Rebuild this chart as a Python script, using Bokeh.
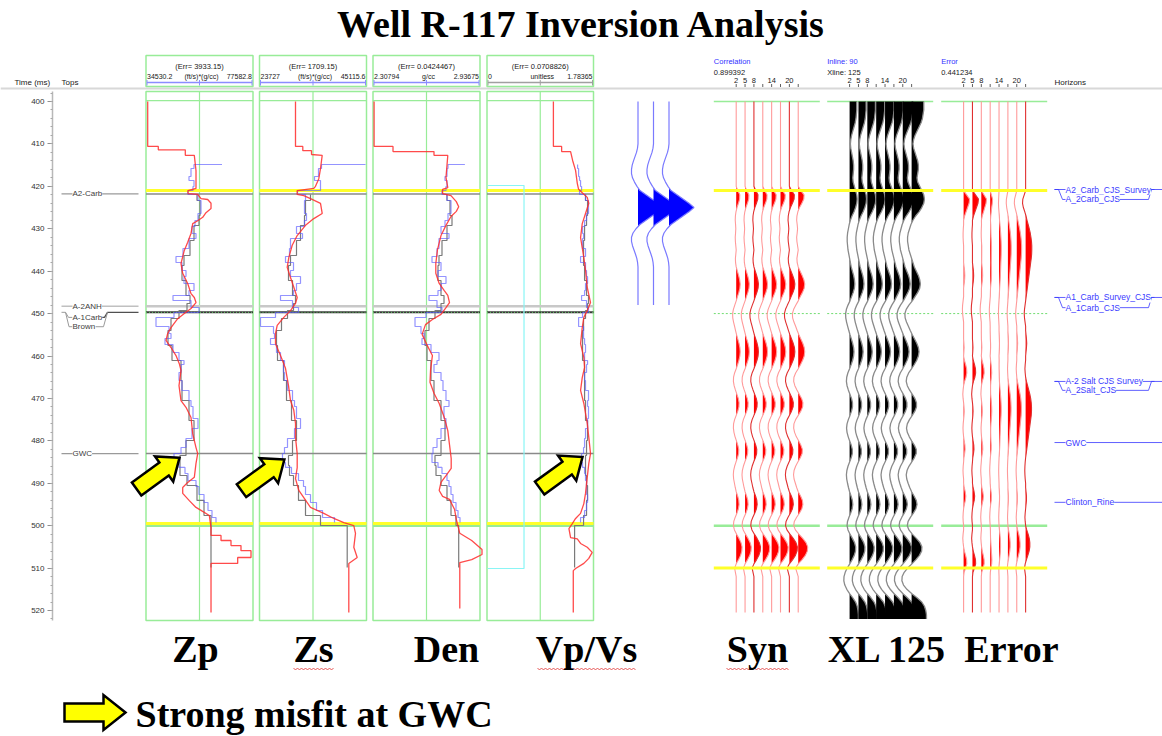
import numpy as np
from bokeh.plotting import figure
from bokeh.models import Range1d, Label, SingleIntervalTicker, LinearAxis
from bokeh.embed import file_html
from bokeh.resources import INLINE

# ======================= DATA =======================
title_text = "Well R-117 Inversion Analysis"
legend_text = "Strong misfit at GWC"

track_names = ["Zp", "Zs", "Den", "Vp/Vs"]
track_err = ["(Err= 3933.15)", "(Err= 1709.15)", "(Err= 0.0424467)", "(Err= 0.0708826)"]
track_units = ["(ft/s)*(g/cc)", "(ft/s)*(g/cc)", "g/cc", "unitless"]
track_min = [34530.2, 23727.0, 2.30794, 0.0]
track_max = [77582.8, 45115.6, 2.93675, 1.78365]
track_min_lbl = ["34530.2", "23727", "2.30794", "0"]
track_max_lbl = ["77582.8", "45115.6", "2.93675", "1.78365"]

# inverted result (red)
zp_inv_t = [400.0, 410.6, 410.6, 411.4, 411.4, 412.7, 412.7, 416.3, 420.5, 421.0, 421.7, 421.9, 422.9, 423.1, 424.0,
            425.2, 426.2, 427.3, 428.1, 428.8, 431.1, 433.2, 435.1, 438.2, 440.5, 442.9, 445.3, 446.2, 447.4, 448.8,
            450.0, 451.2, 453.3, 454.7, 456.3, 458.0, 459.9, 461.8, 463.4, 467.0, 470.5, 472.1, 474.5, 478.3, 481.6,
            483.0, 485.3, 488.6, 489.8, 491.0, 492.4, 494.1, 495.7, 496.4, 497.6, 500.4, 502.3, 502.3, 503.5, 503.5,
            504.7, 504.7, 505.9, 505.9, 507.5, 507.5, 508.9, 508.9, 520.5]
zp_inv_v = [35214, 35214, 39480, 39480, 50345, 50345, 53966, 54650, 54650, 51430, 51430, 55330, 56660, 59350, 60690,
            60690, 58670, 57350, 55330, 53320, 52640, 51310, 49940, 48610, 49300, 51310, 52640, 53970, 54650, 52640,
            49940, 47290, 44590, 43260, 42580, 44590, 46600, 47930, 48610, 47810, 48610, 50620, 52640, 53320, 54650,
            55330, 54650, 53970, 51310, 49300, 49300, 51960, 54650, 56660, 60000, 60690, 60690, 64710, 64710, 68730,
            68730, 72750, 72750, 76780, 76780, 71420, 71420, 60690, 60690]
zs_inv_t = [400.0, 410.6, 410.6, 411.6, 411.6, 412.5, 412.7, 415.8, 418.2, 420.0, 420.5, 421.0, 421.9, 422.2, 422.9,
            424.0, 426.4, 427.6, 429.2, 431.6, 433.9, 436.8, 439.1, 441.5, 443.8, 446.2, 447.6, 449.3, 450.9, 452.8,
            454.7, 457.1, 459.9, 462.9, 467.0, 470.5, 472.8, 475.9, 479.2, 483.0, 486.3, 488.9, 491.7, 493.4, 495.7,
            497.1, 498.3, 499.3, 500.0, 501.8, 505.1, 507.5, 508.9, 520.5]
zs_inv_v = [30923, 30923, 32383, 32383, 34122, 34122, 36261, 35921, 35581, 34921, 34582, 31263, 31263, 32583, 33922,
            35921, 36261, 34582, 32922, 31263, 30264, 29584, 29264, 29924, 30584, 31263, 30923, 29924, 28584, 27265,
            26925, 26925, 27925, 28924, 29524, 29924, 30584, 30923, 30923, 31263, 31263, 30923, 31583, 32583, 33922,
            36581, 38580, 40579, 42577, 42917, 42577, 43257, 41578, 41578]
den_inv_t = [400.0, 410.6, 410.6, 411.8, 411.8, 412.7, 412.7, 417.9, 420.3, 420.7, 421.7, 422.2, 423.6, 424.8, 425.9,
             427.1, 429.2, 431.6, 434.9, 438.2, 440.5, 442.9, 444.6, 445.7, 447.4, 448.6, 450.2, 451.4, 452.6, 454.9,
             457.5, 459.9, 463.2, 466.2, 468.8, 471.2, 474.5, 477.6, 480.9, 484.2, 486.5, 488.2, 489.8, 491.7, 493.1,
             493.8, 496.2, 498.5, 501.8, 503.5, 505.6, 506.8, 508.0, 508.7, 519.5]
den_inv_v = [2.3144, 2.3144, 2.4255, 2.4255, 2.6664, 2.6664, 2.7475, 2.7369, 2.7475, 2.7170, 2.7170, 2.7663, 2.7975,
             2.8116, 2.7975, 2.7663, 2.7369, 2.7075, 2.6870, 2.6770, 2.6770, 2.6970, 2.7269, 2.7475, 2.7575, 2.7369,
             2.7075, 2.6570, 2.6165, 2.5965, 2.6265, 2.6570, 2.6464, 2.6429, 2.6664, 2.6970, 2.7269, 2.7475, 2.7575,
             2.7675, 2.7675, 2.7369, 2.7075, 2.6970, 2.7170, 2.7575, 2.7875, 2.7975, 2.8180, 2.8880, 2.9485, 2.9485,
             2.8880, 2.8180, 2.8180]
vpvs_inv_t = [400.0, 410.6, 410.6, 411.8, 411.8, 413.9, 416.3, 419.3, 420.7, 421.5, 422.6, 424.0, 426.4, 428.8, 432.1,
              436.8, 439.8, 443.8, 447.4, 449.3, 450.9, 453.3, 457.1, 460.4, 462.7, 465.1, 468.1, 471.2, 475.9, 479.2,
              483.0, 485.3, 488.6, 492.4, 494.8, 497.1, 498.3, 499.5, 500.7, 502.8, 503.1, 504.2, 505.1, 506.3, 507.7,
              508.9, 510.1, 510.6, 520.5]
vpvs_inv_v = [1.112, 1.112, 1.250, 1.250, 1.400, 1.434, 1.484, 1.512, 1.534, 1.595, 1.679, 1.705, 1.650, 1.595, 1.567,
              1.622, 1.650, 1.679, 1.734, 1.679, 1.622, 1.595, 1.567, 1.622, 1.634, 1.595, 1.567, 1.622, 1.679, 1.705,
              1.734, 1.705, 1.679, 1.650, 1.622, 1.567, 1.484, 1.429, 1.372, 1.400, 1.512, 1.567, 1.679, 1.762, 1.705,
              1.622, 1.484, 1.445, 1.445]

# well logs (blue, blocked) : shared block boundaries
log_tb = [414.85, 415.80, 417.68, 418.62, 420.04, 420.98, 421.92, 423.34, 426.40, 428.05,
          429.47, 431.12, 432.30, 434.66, 436.54, 437.96, 439.84, 441.26, 442.91, 444.56,
          445.74, 446.91, 448.56, 449.74, 450.92, 453.04, 454.69, 455.87, 457.29, 459.17,
          461.06, 462.00, 463.89, 465.77, 468.13, 470.49, 471.90, 474.73, 477.09, 479.45,
          481.57, 482.98, 485.11, 486.28, 487.70, 489.35, 490.76, 492.65, 494.54, 496.42,
          498.07, 499.25]
zp_log = [53843, 52636, 51831, 53843, 53441, 51429, 55452, 56660, 55452, 54245,
          53038, 54648, 51831, 49417, 46601, 49015, 50624, 49820, 53843, 51831,
          45394, 52636, 55855, 45796, 38554, 43784, 44589, 42175, 45394, 47808,
          49820, 48613, 47808, 49015, 51831, 52636, 53441, 55452, 53038, 50624,
          48613, 45796, 47808, 50222, 51429, 54648, 55855, 57867, 59476, 61086, 62695]
zs_log = [36121, 35521, 34722, 35921, 35921, 31323, 32922, 32723, 33122, 32723,
          31123, 32323, 29924, 29724, 28924, 30524, 29924, 31923, 31123, 30524,
          27925, 30324, 31523, 26925, 23927, 26526, 26726, 25926, 27125, 27925,
          28725, 28525, 28725, 29324, 30324, 30724, 31123, 31923, 30724, 29324,
          28725, 28325, 28924, 30124, 31523, 32523, 32922, 33922, 35121, 36321, 38720]
den_log = [2.7487, 2.7428, 2.7311, 2.7428, 2.7369, 2.7134, 2.7428, 2.7663, 2.7487, 2.7311,
           2.7076, 2.7546, 2.6958, 2.6841, 2.6547, 2.7076, 2.6899, 2.7369, 2.7076, 2.6899,
           2.6370, 2.6841, 2.7134, 2.6194, 2.5548, 2.5900, 2.6077, 2.5959, 2.6488, 2.6958,
           2.6841, 2.6664, 2.7076, 2.7193, 2.7369, 2.7546, 2.7252, 2.7369, 2.7076, 2.6841,
           2.6606, 2.6547, 2.6899, 2.7134, 2.7428, 2.7546, 2.7663, 2.7781, 2.7957, 2.8075, 2.8192]
vpvs_log = [1.517, 1.534, 1.550, 1.567, 1.584, 1.550, 1.650, 1.700, 1.667, 1.634,
            1.600, 1.617, 1.600, 1.650, 1.567, 1.650, 1.667, 1.684, 1.650, 1.634,
            1.584, 1.667, 1.700, 1.600, 1.534, 1.617, 1.617, 1.634, 1.650, 1.634,
            1.684, 1.667, 1.634, 1.650, 1.700, 1.684, 1.700, 1.684, 1.650, 1.634,
            1.617, 1.584, 1.600, 1.634, 1.650, 1.667, 1.667, 1.684, 1.667, 1.634, 1.567]
log_top = [65109, 44916, 2.8480, None]

# initial model (gray)
model_t = [421.92, 423.34, 426.88, 429.23, 432.77, 436.31, 438.66, 442.20, 445.74, 447.62, 449.27, 451.16, 453.99,
           457.52, 461.06, 465.77, 470.49, 475.20, 479.92, 483.46, 485.81, 488.17, 490.53, 494.06, 497.60, 499.96, 509.86]
zp_model = [55050, 56257, 55855, 53843, 52234, 49820, 49015, 50624, 52234, 51027, 47808, 44589, 43382,
            44992, 48613, 49015, 51831, 53843, 50624, 48210, 48210, 51027, 55050, 57867, 60683, 60683, 60683]
zs_model = [33922, 32922, 32723, 31923, 31123, 29924, 29524, 30324, 30923, 30524, 29324, 28125, 27125,
            27325, 28525, 29124, 30124, 31123, 30324, 29524, 29724, 30524, 31523, 32922, 35921, 41258, 41258]
den_model = [2.7428, 2.7605, 2.7722, 2.7428, 2.7134, 2.6958, 2.6899, 2.7076, 2.7252, 2.7076, 2.6723, 2.6370, 2.6135,
             2.6253, 2.6488, 2.6664, 2.7076, 2.7311, 2.7076, 2.6723, 2.6782, 2.7076, 2.7428, 2.7663, 2.7957, 2.8116, 2.8116]
vpvs_model = [1.650, 1.684, 1.667, 1.634, 1.617, 1.617, 1.634, 1.667, 1.700, 1.684, 1.650, 1.617, 1.600,
              1.600, 1.634, 1.634, 1.650, 1.684, 1.667, 1.650, 1.650, 1.667, 1.684, 1.667, 1.617, 1.467, 1.467]
vpvs_cyan_t = [419.8, 419.8, 510.1, 510.1]
vpvs_cyan_v = [0.01, 0.62, 0.62, 0.01]

# markers in log tracks
trk_yellow_t = [421.0, 499.5]
trk_gray_t = [421.8, 483.0]
trk_lgray_t = 448.3
trk_dark_t = 449.7
trk_green_t = [399.8, 500.0]

# well tops (left)
tops_names = ["A2-Carb", "A-2ANH", "A-1Carb", "Brown", "GWC"]
tops_t = [421.8, 448.3, 449.7, 449.7, 483.0]
tops_label_t = [421.8, 448.3, 450.9, 453.1, 483.0]

# horizons (right)
hz_names = ["A2_Carb_CJS_Survey", "A_2Carb_CJS", "A1_Carb_Survey_CJS", "A_1Carb_CJS",
            "A-2 Salt CJS Survey", "A_2Salt_CJS", "GWC", "Clinton_Rine"]
hz_t = [420.75, 423.1, 446.2, 448.6, 466.0, 468.1, 480.4, 494.5]
hz_paired = [True, False, True, False, True, False, None, None]

# seismic panels
panel_names = ["Syn", "XL 125", "Error"]
panel_head1 = ["Correlation", "Inline: 90", "Error"]
panel_head2 = ["0.899392", "Xline: 125", "0.441234"]
trace_numbers = [2, 5, 8, 11, 14, 17, 20, 23]
trace_labels = [2, 5, 8, 14, 20]
seis_lines_t = [400.0, 421.0, 450.0, 500.0, 510.0]

syn_amp = [0, 2.0, 4.5, 4.3, 2.8, 1.0, -0.3, -1.0, -1.2, -0.8,
           -0.5, -0.8, -1.2, -1.0, -0.5, 0.0, -0.5, -1.0, -0.8, 0.0,
           1.5, 3.0, 4.3, 5.0, 4.6, 3.3, 1.6, 0.0, -1.8, -3.5,
           -4.5, -4.3, -3.3, -2.0, -0.8, 0.5, 2.0, 3.5, 4.6, 5.0,
           4.6, 3.4, 1.8, 0.0, -2.0, -3.3, -3.5, -2.6, -1.0, 0.8,
           2.6, 3.6, 3.4, 2.0, 0.0, -2.0, -3.3, -3.5, -2.8, -1.5,
           0.3, 2.0, 3.2, 3.0, 1.6, -0.3, -2.0, -3.2, -3.6, -3.2,
           -2.2, -1.2, 0.0, 1.8, 3.2, 3.6, 2.8, 1.0, -1.2, -3.0,
           -3.5, -2.2, 0.5, 3.5, 6.0, 7.3, 7.0, 5.5, 3.0, 0.0,
           -2.0, -1.0, 0.0]
syn_gain = [0.8, 0.85, 0.9, 0.95, 1.0, 1.05, 1.1, 1.3]

xl_amp = [9, 9, 9, 8.5, 8, 7, 5.5, 4, 2.5, 1.5,
          1.0, 1.5, 2.5, 3.5, 4.5, 5.0, 5.0, 4.5, 4.0, 4.5,
          6, 7.5, 9, 9.5, 9, 7.5, 5.5, 3, 1, -0.5,
          -1.5, -2.5, -3, -3, -2.5, -2, -1, 0, 1, 2,
          3.5, 5, 6, 6.5, 6, 4.5, 2.5, 0.5, -2, -4,
          -5, -4.8, -3.8, -2.4, -1, 0.5, 2.2, 3.8, 5, 5.5,
          5, 3.8, 2, 0, -2.2, -3.6, -4, -3.2, -1.6, 0.4,
          2.4, 3.6, 3.6, 2.4, 0.5, -1.6, -3.2, -3.8, -3.2, -1.8,
          0, 2, 3.4, 3.4, 2, 0, -2, -3.4, -4, -3.6,
          -2.6, -1.4, 0, 1.8, 3.4, 4, 3.2, 1.4, -0.8, -2.6,
          -3.2, -2, 0.5, 3.5, 6.2, 7.6, 7.4, 5.8, 3.2, 0.2,
          -3, -5.5, -7, -7.2, -6, -3.5, 0, 4, 7.5, 9.5,
          10.5, 11, 11]
xl_gain = [0.8, 0.85, 0.9, 0.95, 1.0, 1.05, 1.15, 1.35]

err_amp_a = [0, 0, 3, 6, 5.5, 4, 2.5, 1, 0, 0,
             -0.3, -0.5, -0.5, -0.3, 0, 0, 0, 0, 0, 0.5,
             1.0, 1.2, 1.0, 0.5, 0, 0, 0, -0.5, -1.0, -1.2,
             -1.0, -0.5, 0, 0, 0, 0, 0, 0.3, 0.5, 0.3,
             0, 0.8, 2.0, 3.0, 3.2, 2.4, 1.0, 0, -0.5, -0.8,
             -0.5, 0, 0.4, 0.6, 0.4, 0, -0.4, -0.6, -0.4, 0,
             0.6, 1.3, 1.5, 1.0, 0.3, 0, -0.4, -0.6, -0.4, 0,
             0, 0.6, 1.6, 2.2, 1.8, 0.8, 0, -0.4, -0.6, -0.4,
             0, 0, -0.5, -0.8, -0.5, 0, 0.8, 2.0, 3.0, 3.2,
             2.0, 0.5, 0]
err_amp_b = [0, 0, -1.0, -2.0, -2.2, -1.6, -0.6, 0.3, 1.0, 1.8,
             2.6, 3.3, 3.8, 4.2, 4.4, 4.4, 4.3, 4.0, 3.6, 3.2,
             2.8, 2.4, 2.0, 1.6, 1.2, 0.8, 0.4, 0, -0.4, -0.8,
             -1.0, -0.8, -0.4, 0, 0, 0.3, 0.6, 0.8, 0.6, 0.3,
             0, 0, -0.3, -0.5, -0.3, 0, 0.6, 1.4, 2.2, 3.0,
             3.6, 4.0, 4.2, 4.2, 4.0, 3.6, 3.2, 2.8, 2.4, 2.0,
             1.6, 1.2, 0.8, 0.4, 0, -0.3, -0.5, -0.6, -0.5, -0.3,
             0, 0, 0.3, 0.6, 0.6, 0.3, 0, -0.3, -0.5, -0.3,
             0, 0.8, 1.8, 2.6, 3.0, 3.0, 2.5, 1.6, 0.6, -0.3,
             -0.8, -0.4, 0]
err_gain_a = [1.0, 1.0, 0.9, 0.5, 0.1, 0.0, 0.0, 0.0]
err_gain_b = [0.0, 0.0, 0.1, 0.3, 0.5, 0.75, 1.1, 1.4]

wavelet_amp = [0, 0, 0, 0, 0, 0, 0, 0, 0, 0,
               0, -0.5, -1.5, -3, -4.5, -5.8, -6.5, -6.5, -5.5, -3.5,
               -1, 2, 8, 14, 20, 25, 20, 14, 8, 2,
               -2, -5, -6.5, -6.5, -5.5, -4, -2.5, -1.2, -0.4, 0,
               0, 0, 0, 0, 0, 0, 0, 0, 0]

misfit_track = [0, 1, 3]
misfit_t = [484.0, 484.4, 483.8]
misfit_v = [48000, 28700, 1.60]

# ======================= LAYOUT =======================
PXMS = 4.2417


def T(ypx):
    return 400 + (ypx - 101) / PXMS


W, H = 1162, 736
p = figure(width=W, height=H, x_range=Range1d(0, W), y_range=Range1d(T(H), T(0)),
           output_backend="svg", toolbar_location=None, x_axis_location=None, y_axis_location=None,
           min_border_left=0, min_border_right=0, min_border_top=0, min_border_bottom=0)
p.outline_line_color = None
p.background_fill_color = "white"
p.border_fill_color = "white"
p.grid.visible = False

ax = LinearAxis(ticker=SingleIntervalTicker(interval=10, num_minor_ticks=5), bounds=(397.6, 522.4),
                fixed_location=52)
ax.major_label_text_font = "Liberation Sans"
ax.major_label_text_font_size = "8px"
ax.major_label_text_color = "#333333"
ax.axis_line_color = "#b8b8b8"
ax.axis_line_width = 1.5
ax.major_tick_line_color = "#909090"
ax.minor_tick_line_color = "#a8a8a8"
ax.major_tick_out = 5
ax.major_tick_in = 0
ax.minor_tick_out = 2
ax.minor_tick_in = 0
ax.major_label_standoff = 3
p.add_layout(ax, "left")

SMALL = "Liberation Sans"
BIG = "Liberation Serif"


def lab(x, ypx, text, size=8, color="#202020", align="left", baseline="middle",
        font=SMALL, style="normal", bg=None):
    kw = dict(x=x, y=T(ypx), text=text, text_font=font, text_font_size=f"{size}px",
              text_color=color, text_align=align, text_baseline=baseline, text_font_style=style)
    if bg:
        kw["background_fill_color"] = bg
    p.add_layout(Label(**kw))


def hseg(x0, x1, t, color, width=1.0, dash="solid", alpha=1.0):
    p.segment(x0=[x0], x1=[x1], y0=[t], y1=[t], line_color=color, line_width=width,
              line_dash=dash, line_alpha=alpha)


# title
lab(581, 23, title_text, size=38, color="black", align="center", font=BIG, style="bold")

# header row
p.segment(x0=[0], x1=[W], y0=[T(88)], y1=[T(88)], line_color="#d8d8d8", line_width=2)
lab(14, 82, "Time (ms)")
lab(61, 82, "Tops")
lab(1054, 82, "Horizons")

GREEN = "#98ec98"
tracks_x = [(145.5, 252.5), (259.0, 366.0), (372.5, 479.5), (486.5, 593.0)]
inv_t = [zp_inv_t, zs_inv_t, den_inv_t, vpvs_inv_t]
inv_v = [zp_inv_v, zs_inv_v, den_inv_v, vpvs_inv_v]
logs = [zp_log, zs_log, den_log, vpvs_log]
models = [zp_model, zs_model, den_model, vpvs_model]


def to_x(vals, i):
    x0, x1 = tracks_x[i]
    v = np.asarray(vals, dtype=float)
    return x0 + (v - track_min[i]) / (track_max[i] - track_min[i]) * (x1 - x0)


for i, (x0, x1) in enumerate(tracks_x):
    mid = (x0 + x1) / 2
    # header box
    p.quad(left=[x0], right=[x1], top=[T(55)], bottom=[T(86)], fill_color=None,
           line_color=GREEN, line_width=1.5)
    lab(mid, 65.5, track_err[i], size=7.5, align="center")
    lab(x0 + 1, 75.5, track_min_lbl[i], size=7)
    lab(mid + 2, 75.5, track_units[i], size=7, align="center")
    lab(x1 - 1, 75.5, track_max_lbl[i], size=7, align="right")
    sc = "#8c8cff" if i < 3 else "#a0a0a0"
    hseg(x0 + 1, x1 - 1, T(82), sc, 1.5)
    p.segment(x0=[x0 + 1, mid, x1 - 1], x1=[x0 + 1, mid, x1 - 1],
              y0=[T(79.5)] * 3, y1=[T(85)] * 3, line_color=sc, line_width=1)
    # main box
    p.quad(left=[x0], right=[x1], top=[T(91)], bottom=[T(620)], fill_color=None,
           line_color=GREEN, line_width=1.5)
    p.segment(x0=[mid], x1=[mid], y0=[T(91)], y1=[T(620)], line_color=GREEN, line_width=1.2)
    hseg(x0, x1, trk_green_t[0], GREEN, 1.2)
    # markers
    hseg(x0, x1, trk_lgray_t, "#c8c8c8", 2.5)
    hseg(x0, x1, trk_dark_t, "#3a3a3a", 2)
    hseg(x0, x1, trk_dark_t, "#66cc66", 1, dash="1 2")
    for t in trk_gray_t:
        hseg(x0, x1, t, "#8a8a8a", 1.5)
    hseg(x0, x1, trk_green_t[1], GREEN, 2.5)
    for t in trk_yellow_t:
        hseg(x0, x1, t, "#ffff2a", 3)

    # initial model (gray)
    mx = to_x(models[i], i)
    gx, gy = [], []
    for k in range(len(model_t) - 1):
        gx += [mx[k], mx[k]]
        gy += [model_t[k], model_t[k + 1]]
    p.line(gx, gy, line_color="#7a7a7a", line_width=1.2)

    # well log (blue, blocky)
    lx = to_x(logs[i], i)
    bx, by = [], []
    if log_top[i] is not None:
        bx.append(float(to_x([log_top[i]], i)[0]))
        by.append(log_tb[0])
    for k in range(len(logs[i])):
        bx += [lx[k], lx[k]]
        by += [log_tb[k], log_tb[k + 1]]
    p.line(bx, by, line_color="#5a5aff", line_width=1.2, line_alpha=0.65)

    # inversion (red)
    p.line(to_x(inv_v[i], i), inv_t[i], line_color="#ff2a2a", line_width=1.3, line_alpha=0.85)

# cyan in Vp/Vs
p.line(to_x(vpvs_cyan_v, 3), vpvs_cyan_t, line_color="#8af5f5", line_width=1.2)

# ---------- tops (left) ----------
TOPC = "#9a9a9a"
hseg(61, 138, tops_t[0], TOPC, 1.2)
hseg(61, 138, tops_t[1], "#c0c0c0", 1.5)
hseg(61, 138, tops_t[4], TOPC, 1.2)
p.line([61, 65, 68, 72], [tops_t[2], tops_t[2], tops_label_t[2], tops_label_t[2]], line_color=TOPC, line_width=1)
p.line([65, 68.5, 72], [tops_t[2], tops_label_t[3], tops_label_t[3]], line_color=TOPC, line_width=1)
p.line([100, 104, 107, 138], [tops_label_t[2], tops_label_t[2], tops_t[2], tops_t[2]], line_color="#505050", line_width=1.3)
p.line([95, 103, 107], [tops_label_t[3], tops_label_t[3], tops_t[2]], line_color=TOPC, line_width=1)
for name, tl in zip(tops_names, tops_label_t):
    p.add_layout(Label(x=72, y=tl, text=name, text_font=SMALL, text_font_size="8px", text_color="#404040",
                       text_baseline="middle", background_fill_color="white"))

# ---------- horizons (right) ----------
HZC = "#3a3aff"
for k, (name, t) in enumerate(zip(hz_names, hz_t)):
    if hz_paired[k] is False:
        tu = hz_t[k - 1]
        p.line([1054, 1058, 1062, 1148, 1151, 1154], [tu, tu, t, t, tu, tu], line_color=HZC, line_width=1,
               line_alpha=0.8)
    else:
        hseg(1054, W, t, HZC, 1, alpha=0.8)
    p.add_layout(Label(x=1065, y=t, text=name, text_font=SMALL, text_font_size="8.5px", text_color=HZC,
                       text_baseline="middle", background_fill_color="white"))

# ---------- wavelet ----------
wav_t = np.arange(400, 400 + len(wavelet_amp), dtype=float)


def fill_pts(t, a):
    tt, aa = [t[0]], [a[0]]
    for k in range(1, len(t)):
        if (a[k - 1] > 0) != (a[k] > 0) and a[k - 1] != a[k]:
            f = a[k - 1] / (a[k - 1] - a[k])
            tt.append(t[k - 1] + f * (t[k] - t[k - 1]))
            aa.append(0.0)
        tt.append(t[k])
        aa.append(a[k])
    return np.array(tt), np.clip(np.array(aa), 0, None)


def wiggle(base, t, a, line_color, fill_color, lw=1.1, la=1.0):
    t = np.asarray(t, float)
    a = np.asarray(a, float)
    ft, fa = fill_pts(t, a)
    p.harea(x1=np.full(len(ft), base), x2=base + fa, y=ft, fill_color=fill_color, fill_alpha=1.0)
    p.line(base + a, t, line_color=line_color, line_width=lw, line_alpha=la)


for bx0 in [637.5, 653.0, 668.5]:
    wiggle(bx0, wav_t, wavelet_amp, "#7a7aff", "#0000ff", 1.2)

# ---------- seismic panels ----------
panel_left = [713.3, 826.7, 940.7]
panel_w = 106
trace_dx = 8.86 / 3
seis_t = np.arange(420, 513, dtype=float)
xl_t = np.arange(400, 400 + len(xl_amp), dtype=float)


def trace_x(L, n):
    return L + 22.4 + (n - 2) * trace_dx


syn_dark = [False, False, True, False, False, False, True, False]
err_dark = [False, True, False, False, False, False, False, True]

for j, L in enumerate(panel_left):
    R = L + panel_w
    lab(L, 61, panel_head1[j], size=7.5, color="#3030ff")
    lab(L, 71.5, panel_head2[j], size=7.5)
    for n in trace_numbers:
        xt = trace_x(L, n)
        p.segment(x0=[xt], x1=[xt], y0=[T(83.5)], y1=[T(86.5)], line_color="#606060", line_width=1)
    for n in trace_labels:
        lab(trace_x(L, n), 79.5, str(n), size=7.5, align="center")
    hseg(L, R, seis_lines_t[0], GREEN, 1.5)
    hseg(L, R, seis_lines_t[2], "#70dd70", 1, dash="2 2")
    hseg(L, R, seis_lines_t[3], GREEN, 2.5)

    for k, n in enumerate(trace_numbers):
        xb = trace_x(L, n)
        if j == 0:
            a = np.array(syn_amp) * syn_gain[k]
            tt = np.concatenate([[400.0], seis_t, [520.5]])
            aa = np.concatenate([[0.0], a, [0.0]])
            wiggle(xb, tt, aa, "#e03030" if syn_dark[k] else "#ff9a9a", "#ff0000", 1.1)
        elif j == 1:
            a = np.array(xl_amp) * xl_gain[k]
            wiggle(xb, xl_t, a, "#8a8a8a", "#000000", 1.3)
        else:
            a = np.array(err_amp_a) * err_gain_a[k] + np.array(err_amp_b) * err_gain_b[k]
            tt = np.concatenate([[400.0], seis_t, [520.5]])
            aa = np.concatenate([[0.0], a, [0.0]])
            wiggle(xb, tt, aa, "#e03030" if err_dark[k] else "#ff9a9a", "#ff0000", 1.1)
    hseg(L, R, seis_lines_t[1], "#ffff2a", 3)
    hseg(L, R, seis_lines_t[4], "#ffff2a", 3)

# ---------- arrows ----------


def arrow(tip_x, tip_t, ang_deg, length, head_len, head_hw, shaft_hw):
    pts = [(0, 0), (-head_len, head_hw), (-head_len, shaft_hw), (-length, shaft_hw),
           (-length, -shaft_hw), (-head_len, -shaft_hw), (-head_len, -head_hw)]
    th = np.radians(ang_deg)
    xs, ys = [], []
    for a, b in pts:
        dx = a * np.cos(th) - b * np.sin(th)
        dy = a * np.sin(th) + b * np.cos(th)
        xs.append(tip_x + dx)
        ys.append(tip_t - dy / PXMS)
    p.patch(xs, ys, fill_color="#ffff00", line_color="black", line_width=2.5, line_join="miter")


for ti, tt, vv in zip(misfit_track, misfit_t, misfit_v):
    tipx = float(to_x([vv], ti)[0])
    arrow(tipx, tt, 36, 53, 19, 15.5, 8)

arrow(125, T(712), 0, 61, 22, 17.5, 9)
lab(135, 713, legend_text, size=38, color="black", font=BIG, style="bold")

# ---------- bottom labels ----------
bottom_x = [195, 313, 446, 586, 757, 887, 1011]
bottom_txt = track_names + panel_names
for bxl, txt in zip(bottom_x, bottom_txt):
    lab(bxl, 648, txt, size=38, color="black", align="center", font=BIG, style="bold")

# spell-check squiggles under some labels (as in the source slide)
for cx, half in [(313, 20), (586, 49), (757, 31)]:
    zx = np.arange(cx - half, cx + half + 0.1, 2.0)
    zy = [T(667.5) if k % 2 == 0 else T(669.5) for k in range(len(zx))]
    p.line(zx, zy, line_color="#e03030", line_width=0.8)

open("out.html", "w").write(file_html(p, INLINE))
